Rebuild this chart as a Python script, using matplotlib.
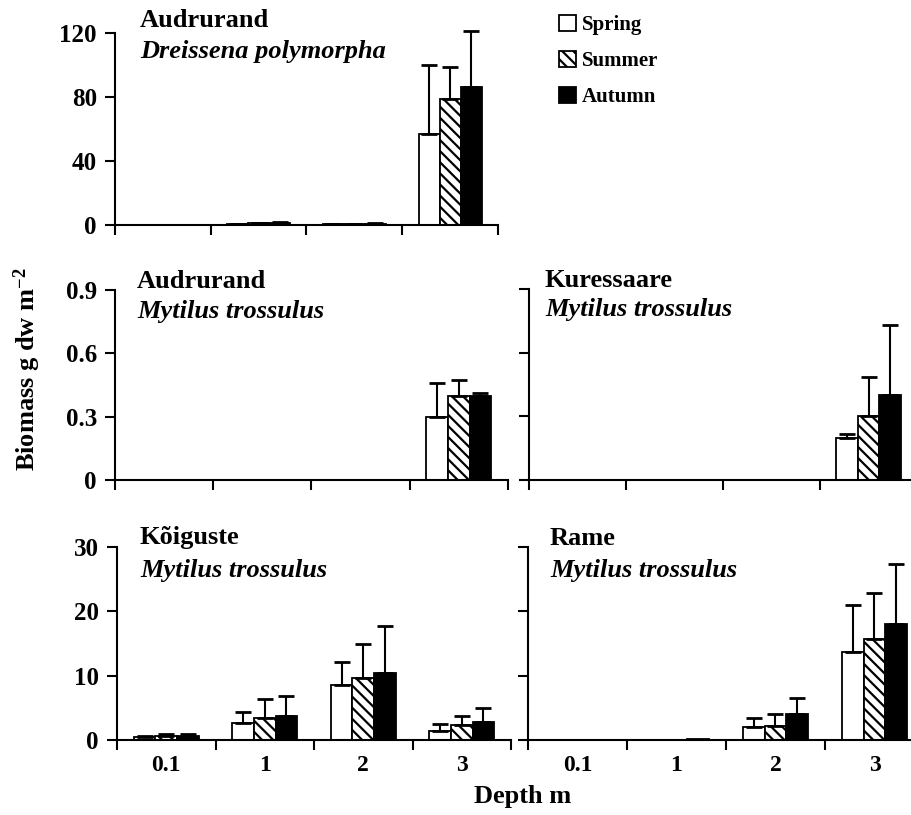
import numpy as np
import matplotlib
matplotlib.use('Agg')
import matplotlib.pyplot as plt
from matplotlib.patches import Patch

plt.rcParams['font.family'] = 'Liberation Serif'
plt.rcParams['font.weight'] = 'bold'
plt.rcParams['mathtext.fontset'] = 'custom'
plt.rcParams['mathtext.rm'] = 'Liberation Serif:bold'
plt.rcParams['mathtext.it'] = 'Liberation Serif:bold'
plt.rcParams['hatch.linewidth'] = 1.6

depths = ['0.1', '1', '2', '3']
seasons = ['Spring', 'Summer', 'Autumn']

# Audrurand, Dreissena polymorpha
aud_dre_spring = [0, 0.5, 0.4, 57]
aud_dre_summer = [0, 1.0, 0.5, 79]
aud_dre_autumn = [0, 1.0, 0.6, 86]
aud_dre_spring_sd = [0, 0.4, 0.3, 43]
aud_dre_summer_sd = [0, 0.5, 0.3, 20]
aud_dre_autumn_sd = [0, 0.6, 0.4, 35]

# Audrurand, Mytilus trossulus
aud_myt_spring = [0, 0, 0, 0.30]
aud_myt_summer = [0, 0, 0, 0.40]
aud_myt_autumn = [0, 0, 0, 0.40]
aud_myt_spring_sd = [0, 0, 0, 0.16]
aud_myt_summer_sd = [0, 0, 0, 0.075]
aud_myt_autumn_sd = [0, 0, 0, 0.012]

# Kuressaare, Mytilus trossulus
kur_spring = [0, 0, 0, 0.20]
kur_summer = [0, 0, 0, 0.30]
kur_autumn = [0, 0, 0, 0.40]
kur_spring_sd = [0, 0, 0, 0.016]
kur_summer_sd = [0, 0, 0, 0.185]
kur_autumn_sd = [0, 0, 0, 0.33]

# Kõiguste, Mytilus trossulus
koi_spring = [0.45, 2.6, 8.6, 1.45]
koi_summer = [0.6, 3.4, 9.6, 2.4]
koi_autumn = [0.65, 3.7, 10.4, 2.85]
koi_spring_sd = [0.1, 1.7, 3.6, 1.0]
koi_summer_sd = [0.4, 2.9, 5.3, 1.3]
koi_autumn_sd = [0.35, 3.1, 7.3, 2.15]

# Rame, Mytilus trossulus
ram_spring = [0, 0.05, 2.05, 13.7]
ram_summer = [0, 0.05, 2.2, 15.7]
ram_autumn = [0, 0.08, 4.05, 18.0]
ram_spring_sd = [0, 0, 1.35, 7.25]
ram_summer_sd = [0, 0, 1.9, 7.1]
ram_autumn_sd = [0, 0, 2.55, 9.4]

W, H = 912, 815
fig = plt.figure(figsize=(W / 100, H / 100), dpi=100)


def box(l, r, top, bot):
    return [l / W, 1 - bot / H, (r - l) / W, (bot - top) / H]


faces = ['white', 'white', 'black']
hatches = [None, '\\\\\\', None]
bw = 0.22


def panel(rect, vals, sds, ymax, yticks, ylabels, xlabels):
    ax = fig.add_axes(rect)
    x = np.arange(len(depths)) + 0.5
    for j in range(3):
        v = np.array(vals[j], dtype=float)
        e = np.array(sds[j], dtype=float)
        xs = x + (j - 1) * bw
        ax.bar(xs, v, bw, color=faces[j], edgecolor='black', linewidth=1.3,
               hatch=hatches[j], zorder=2)
        m = e > 0
        eb = ax.errorbar(xs[m], v[m], yerr=[np.zeros(m.sum()), e[m]],
                         fmt='none', ecolor='black', elinewidth=1.5,
                         capsize=5.5, capthick=2, zorder=3)
        for art in eb.lines[1] + eb.lines[2]:
            art.set_clip_on(False)
    ax.set_xlim(0, 4)
    ax.set_ylim(0, ymax)
    ax.set_xticks(range(5))
    ax.set_xticklabels([])
    ax.set_xticks(x, minor=True)
    ax.set_xticklabels(depths if xlabels else [], minor=True)
    ax.set_yticks(yticks)
    ax.set_yticklabels(ylabels if ylabels else [])
    ax.tick_params(axis='both', which='major', direction='out', length=7,
                   width=1.5, color='black')
    ax.tick_params(axis='x', which='minor', length=0, pad=11, labelsize=17)
    ax.tick_params(axis='y', which='major', pad=6, labelsize=18)
    for s in ['top', 'right']:
        ax.spines[s].set_visible(False)
    for s in ['left', 'bottom']:
        ax.spines[s].set_linewidth(1.5)
    ax.set_facecolor('none')
    return ax


def title(x, y1, y2, site, species):
    fig.text(x / W, 1 - y1 / H, site, fontsize=19, fontweight='bold',
             va='baseline', ha='left')
    fig.text(x / W, 1 - y2 / H, species, fontsize=19, fontweight='bold',
             style='italic', va='baseline', ha='left')


panel(box(115, 498, 33, 225),
      [aud_dre_spring, aud_dre_summer, aud_dre_autumn],
      [aud_dre_spring_sd, aud_dre_summer_sd, aud_dre_autumn_sd],
      120, [0, 40, 80, 120], ['0', '40', '80', '120'], False)
title(140, 27, 58, 'Audrurand', 'Dreissena polymorpha')

panel(box(115, 508, 290, 480),
      [aud_myt_spring, aud_myt_summer, aud_myt_autumn],
      [aud_myt_spring_sd, aud_myt_summer_sd, aud_myt_autumn_sd],
      0.9, [0, 0.3, 0.6, 0.9], ['0', '0.3', '0.6', '0.9'], False)
title(137, 288, 318, 'Audrurand', 'Mytilus trossulus')

panel(box(529, 917, 289, 480),
      [kur_spring, kur_summer, kur_autumn],
      [kur_spring_sd, kur_summer_sd, kur_autumn_sd],
      0.9, [0, 0.3, 0.6, 0.9], None, False)
title(545, 287, 316, 'Kuressaare', 'Mytilus trossulus')

panel(box(117, 511, 547, 740),
      [koi_spring, koi_summer, koi_autumn],
      [koi_spring_sd, koi_summer_sd, koi_autumn_sd],
      30, [0, 10, 20, 30], ['0', '10', '20', '30'], True)
title(140, 544, 577, 'Kõiguste', 'Mytilus trossulus')

panel(box(528, 924, 547, 740),
      [ram_spring, ram_summer, ram_autumn],
      [ram_spring_sd, ram_summer_sd, ram_autumn_sd],
      30, [0, 10, 20, 30], None, True)
title(550, 545, 577, 'Rame', 'Mytilus trossulus')

fig.text(27 / W, 1 - 369 / H, r'Biomass g dw m$^{-2}$', rotation=90,
         fontsize=19, fontweight='bold', ha='center', va='center')
fig.text(523 / W, 1 - 797 / H, 'Depth m', fontsize=19, fontweight='bold',
         ha='center', va='center')

handles = [Patch(facecolor=faces[j], edgecolor='black', linewidth=1.3,
                 hatch=hatches[j]) for j in range(3)]
fig.legend(handles, seasons, loc='upper left',
           bbox_to_anchor=(559 / W, 1 - 15 / H), frameon=False,
           prop={'family': 'Liberation Serif', 'weight': 'bold', 'size': 15},
           handlelength=0.8, handleheight=0.8, handletextpad=0.3,
           labelspacing=0.75, borderpad=0, borderaxespad=0)

fig.savefig('out.png', dpi=100)
